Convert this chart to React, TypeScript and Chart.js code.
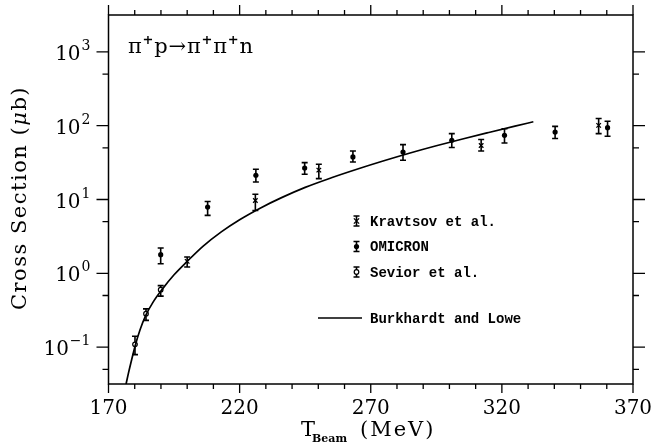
import React, { useEffect, useRef } from 'react';
import { Chart, registerables } from 'chart.js';

Chart.register(...registerables);

// ---- data ----
const seriesNames = ['Kravtsov et al.', 'OMICRON', 'Sevior et al.', 'Burkhardt and Lowe'];

const kravtsovT = [200.0, 226.0, 250.2, 312.1, 356.9];
const kravtsovSigma = [1.45, 9.7, 25.0, 54.0, 101.0];
const kravtsovLow = [1.22, 7.1, 19.2, 45.5, 78.0];
const kravtsovHigh = [1.66, 11.8, 30.0, 65.0, 125.0];

const omicronT = [189.9, 207.8, 226.2, 244.8, 263.2, 282.3, 300.9, 321.0, 340.3, 360.3];
const omicronSigma = [1.79, 7.9, 21.3, 26.7, 37.7, 44.0, 63.5, 74.0, 82.0, 94.0];
const omicronLow = [1.35, 6.1, 17.3, 22.0, 32.2, 34.0, 50.6, 58.4, 67.0, 72.0];
const omicronHigh = [2.2, 9.4, 25.7, 31.6, 45.5, 55.4, 78.0, 91.0, 98.0, 115.0];

const seviorT = [180.1, 184.3, 189.9];
const seviorSigma = [0.109, 0.284, 0.6];
const seviorLow = [0.079, 0.23, 0.49];
const seviorHigh = [0.14, 0.33, 0.68];

const curveT = [176.7, 177.5, 178.5, 180.1, 182, 184.2, 187, 190.3, 195, 200, 206, 213, 220, 228, 236, 245, 255, 265, 275, 285, 295, 305, 315, 325, 332];
const curveSigma = [0.0316, 0.0427, 0.0603, 0.102, 0.17, 0.269, 0.407, 0.596, 0.955, 1.45, 2.32, 3.64, 5.32, 7.69, 10.6, 14.6, 19.7, 25.9, 33.5, 42.7, 53.5, 66.1, 80.9, 98.6, 113.0];

const xTickLabels = [170, 220, 270, 320, 370];
const xMinorStep = 10;
const yTickValues = [0.1, 1, 10, 100, 1000];
const yTickExponents = ['\u22121', '0', '1', '2', '3'];
const yMinorValues = [0.05, 0.5, 5, 50, 500];

const X_MIN = 170;
const X_MAX = 370;
const Y_MIN = Math.pow(10, -1.5);
const Y_MAX = Math.pow(10, 3.5);

const SERIF = '"DejaVu Serif", serif';
const MONO = '"Liberation Mono", monospace';

function pts(xs: number[], ys: number[]) {
  return xs.map((x, i) => ({ x, y: ys[i] }));
}

function drawMarker(ctx: CanvasRenderingContext2D, kind: string, x: number, y: number) {
  ctx.save();
  ctx.strokeStyle = '#000';
  ctx.fillStyle = '#000';
  if (kind === 'cross') {
    ctx.lineWidth = 1.3;
    const r = 2.6;
    ctx.beginPath();
    ctx.moveTo(x - r, y - r); ctx.lineTo(x + r, y + r);
    ctx.moveTo(x + r, y - r); ctx.lineTo(x - r, y + r);
    ctx.stroke();
  } else if (kind === 'filled') {
    ctx.beginPath();
    ctx.arc(x, y, 2.6, 0, Math.PI * 2);
    ctx.fill();
  } else if (kind === 'open') {
    ctx.lineWidth = 1.2;
    ctx.fillStyle = '#fff';
    ctx.beginPath();
    ctx.arc(x, y, 2.3, 0, Math.PI * 2);
    ctx.fill();
    ctx.stroke();
  }
  ctx.restore();
}

function drawErrBar(ctx: CanvasRenderingContext2D, x: number, yLo: number, yHi: number) {
  ctx.save();
  ctx.strokeStyle = '#000';
  ctx.lineWidth = 1.6;
  const c = 3;
  ctx.beginPath();
  ctx.moveTo(x, yLo); ctx.lineTo(x, yHi);
  ctx.moveTo(x - c, yLo); ctx.lineTo(x + c, yLo);
  ctx.moveTo(x - c, yHi); ctx.lineTo(x + c, yHi);
  ctx.stroke();
  ctx.restore();
}

const errorBarPlugin = {
  id: 'errorBars',
  beforeDatasetsDraw(chart: any) {
    const ctx = chart.ctx;
    const xs = chart.scales.x;
    const ys = chart.scales.y;
    chart.data.datasets.forEach((ds: any) => {
      if (!ds.errLow) return;
      ds.data.forEach((p: any, j: number) => {
        const px = xs.getPixelForValue(p.x);
        drawErrBar(ctx, px, ys.getPixelForValue(ds.errLow[j]), ys.getPixelForValue(ds.errHigh[j]));
      });
    });
  },
};

const framePlugin = {
  id: 'frameAndText',
  afterDraw(chart: any) {
    const ctx: CanvasRenderingContext2D = chart.ctx;
    const a = chart.chartArea;
    const xs = chart.scales.x;
    const ys = chart.scales.y;
    ctx.save();
    ctx.strokeStyle = '#000';
    ctx.fillStyle = '#000';
    ctx.lineWidth = 1.5;
    ctx.strokeRect(a.left, a.top, a.right - a.left, a.bottom - a.top);

    // x ticks (bottom and top, outward)
    ctx.lineWidth = 1.3;
    ctx.beginPath();
    for (let v = X_MIN; v <= X_MAX + 1e-6; v += xMinorStep) {
      const px = xs.getPixelForValue(v);
      const major = xTickLabels.includes(v);
      const lb = major ? 9 : 5;
      const lt = major ? 10 : 5;
      ctx.moveTo(px, a.bottom); ctx.lineTo(px, a.bottom + lb);
      ctx.moveTo(px, a.top); ctx.lineTo(px, a.top - lt);
    }
    // y ticks (left and right, outward)
    yTickValues.forEach((v) => {
      const py = ys.getPixelForValue(v);
      ctx.moveTo(a.left, py); ctx.lineTo(a.left - 12, py);
      ctx.moveTo(a.right, py); ctx.lineTo(a.right + 12, py);
    });
    yMinorValues.forEach((v) => {
      const py = ys.getPixelForValue(v);
      ctx.moveTo(a.left, py); ctx.lineTo(a.left - 6, py);
      ctx.moveTo(a.right, py); ctx.lineTo(a.right + 6, py);
    });
    ctx.stroke();

    // y tick labels 10^n
    ctx.textBaseline = 'alphabetic';
    ctx.textAlign = 'right';
    yTickValues.forEach((v, i) => {
      const py = ys.getPixelForValue(v);
      const exp = yTickExponents[i];
      ctx.font = `14px ${SERIF}`;
      const we = ctx.measureText(exp).width;
      ctx.fillText(exp, a.left - 18, py - 2);
      ctx.font = `20px ${SERIF}`;
      ctx.fillText('10', a.left - 18 - we - 1, py + 8);
    });

    // x axis title: T_Beam (MeV)
    ctx.textAlign = 'left';
    ctx.font = `21px ${SERIF}`;
    ctx.fillText('T', 301, 436);
    ctx.font = `bold 11px ${SERIF}`;
    ctx.fillText('Beam', 312, 442);
    ctx.font = `21px ${SERIF}`;
    (ctx as any).letterSpacing = '2px';
    ctx.fillText('(MeV)', 360, 436);
    (ctx as any).letterSpacing = '0px';

    // y axis title
    ctx.save();
    ctx.translate(21, 198);
    ctx.rotate(-Math.PI / 2);
    (ctx as any).letterSpacing = '1.5px';
    const p1 = 'Cross Section (';
    const p2 = '\u03bc';
    const p3 = 'b)';
    ctx.font = `21px ${SERIF}`;
    const w1 = ctx.measureText(p1).width;
    const w3 = ctx.measureText(p3).width;
    ctx.font = `italic 21px ${SERIF}`;
    const w2 = ctx.measureText(p2).width;
    let x0 = -(w1 + w2 + w3) / 2;
    ctx.textBaseline = 'middle';
    ctx.font = `21px ${SERIF}`;
    ctx.fillText(p1, x0, 0);
    x0 += w1;
    ctx.font = `italic 21px ${SERIF}`;
    ctx.fillText(p2, x0, 0);
    x0 += w2;
    ctx.font = `21px ${SERIF}`;
    ctx.fillText(p3, x0, 0);
    (ctx as any).letterSpacing = '0px';
    ctx.restore();

    // reaction label
    ctx.textBaseline = 'alphabetic';
    ctx.textAlign = 'left';
    const parts: [string, boolean][] = [
      ['\u03c0', false], ['+', true], ['p', false], ['\u2192', false],
      ['\u03c0', false], ['+', true], ['\u03c0', false], ['+', true], ['n', false],
    ];
    let tx = 128;
    parts.forEach(([s, sup]) => {
      ctx.font = sup ? `bold 13px ${SERIF}` : `21px ${SERIF}`;
      ctx.fillText(s, tx, sup ? 44 : 53);
      tx += ctx.measureText(s).width + 0.8;
    });

    // legend
    const rows: [string, string, number][] = [
      [seriesNames[0], 'cross', 221],
      [seriesNames[1], 'filled', 246.5],
      [seriesNames[2], 'open', 272],
    ];
    ctx.font = `bold 14px ${MONO}`;
    ctx.textBaseline = 'middle';
    rows.forEach(([label, kind, y]) => {
      drawErrBar(ctx, 356.5, y + 5, y - 5);
      drawMarker(ctx, kind, 356.5, y);
      ctx.fillText(label, 370, y + 1);
    });
    ctx.lineWidth = 1.6;
    ctx.beginPath();
    ctx.moveTo(318, 318);
    ctx.lineTo(362, 318);
    ctx.stroke();
    ctx.fillText(seriesNames[3], 370, 319);

    ctx.restore();
  },
};

export default function App() {
  const ref = useRef<HTMLCanvasElement | null>(null);

  useEffect(() => {
    if (!ref.current) return;
    const chart = new Chart(ref.current, {
      type: 'scatter',
      data: {
        datasets: [
          {
            label: seriesNames[3],
            data: pts(curveT, curveSigma),
            showLine: true,
            borderColor: '#000',
            borderWidth: 1.7,
            pointRadius: 0,
            cubicInterpolationMode: 'monotone',
            fill: false,
          } as any,
          {
            label: seriesNames[0],
            data: pts(kravtsovT, kravtsovSigma),
            errLow: kravtsovLow,
            errHigh: kravtsovHigh,
            pointStyle: 'crossRot',
            pointRadius: 3.2,
            borderColor: '#000',
            borderWidth: 1.3,
          } as any,
          {
            label: seriesNames[1],
            data: pts(omicronT, omicronSigma),
            errLow: omicronLow,
            errHigh: omicronHigh,
            pointStyle: 'circle',
            pointRadius: 2.6,
            backgroundColor: '#000',
            borderColor: '#000',
            borderWidth: 0,
          } as any,
          {
            label: seriesNames[2],
            data: pts(seviorT, seviorSigma),
            errLow: seviorLow,
            errHigh: seviorHigh,
            pointStyle: 'circle',
            pointRadius: 2.3,
            backgroundColor: '#fff',
            borderColor: '#000',
            borderWidth: 1.2,
          } as any,
        ],
      },
      options: {
        animation: false,
        responsive: false,
        maintainAspectRatio: false,
        layout: { padding: { top: 15, right: 19, left: 0, bottom: 0 } },
        plugins: {
          legend: { display: false },
          tooltip: { enabled: false },
        },
        scales: {
          x: {
            type: 'linear',
            min: X_MIN,
            max: X_MAX,
            afterBuildTicks: (s: any) => {
              s.ticks = xTickLabels.map((v) => ({ value: v }));
            },
            afterFit: (s: any) => {
              s.height = 63;
              s.paddingLeft = 0;
              s.paddingRight = 0;
            },
            grid: { display: false, drawTicks: false },
            border: { display: false },
            ticks: {
              color: '#000',
              font: { family: SERIF, size: 20 },
              padding: 13,
              maxRotation: 0,
              autoSkip: false,
            },
          },
          y: {
            type: 'logarithmic',
            min: Y_MIN,
            max: Y_MAX,
            afterBuildTicks: (s: any) => {
              s.ticks = yTickValues.map((v) => ({ value: v }));
            },
            afterFit: (s: any) => {
              s.width = 108.5;
              s.paddingTop = 0;
              s.paddingBottom = 0;
            },
            grid: { display: false, drawTicks: false },
            border: { display: false },
            ticks: { display: false },
          },
        },
      } as any,
      plugins: [errorBarPlugin, framePlugin],
    });
    return () => chart.destroy();
  }, []);

  return (
    <div style={{ position: 'absolute', left: 0, top: 0, width: 652, height: 447, background: '#fff' }}>
      <canvas ref={ref} width={652} height={447} style={{ width: 652, height: 447, display: 'block' }} />
    </div>
  );
}
